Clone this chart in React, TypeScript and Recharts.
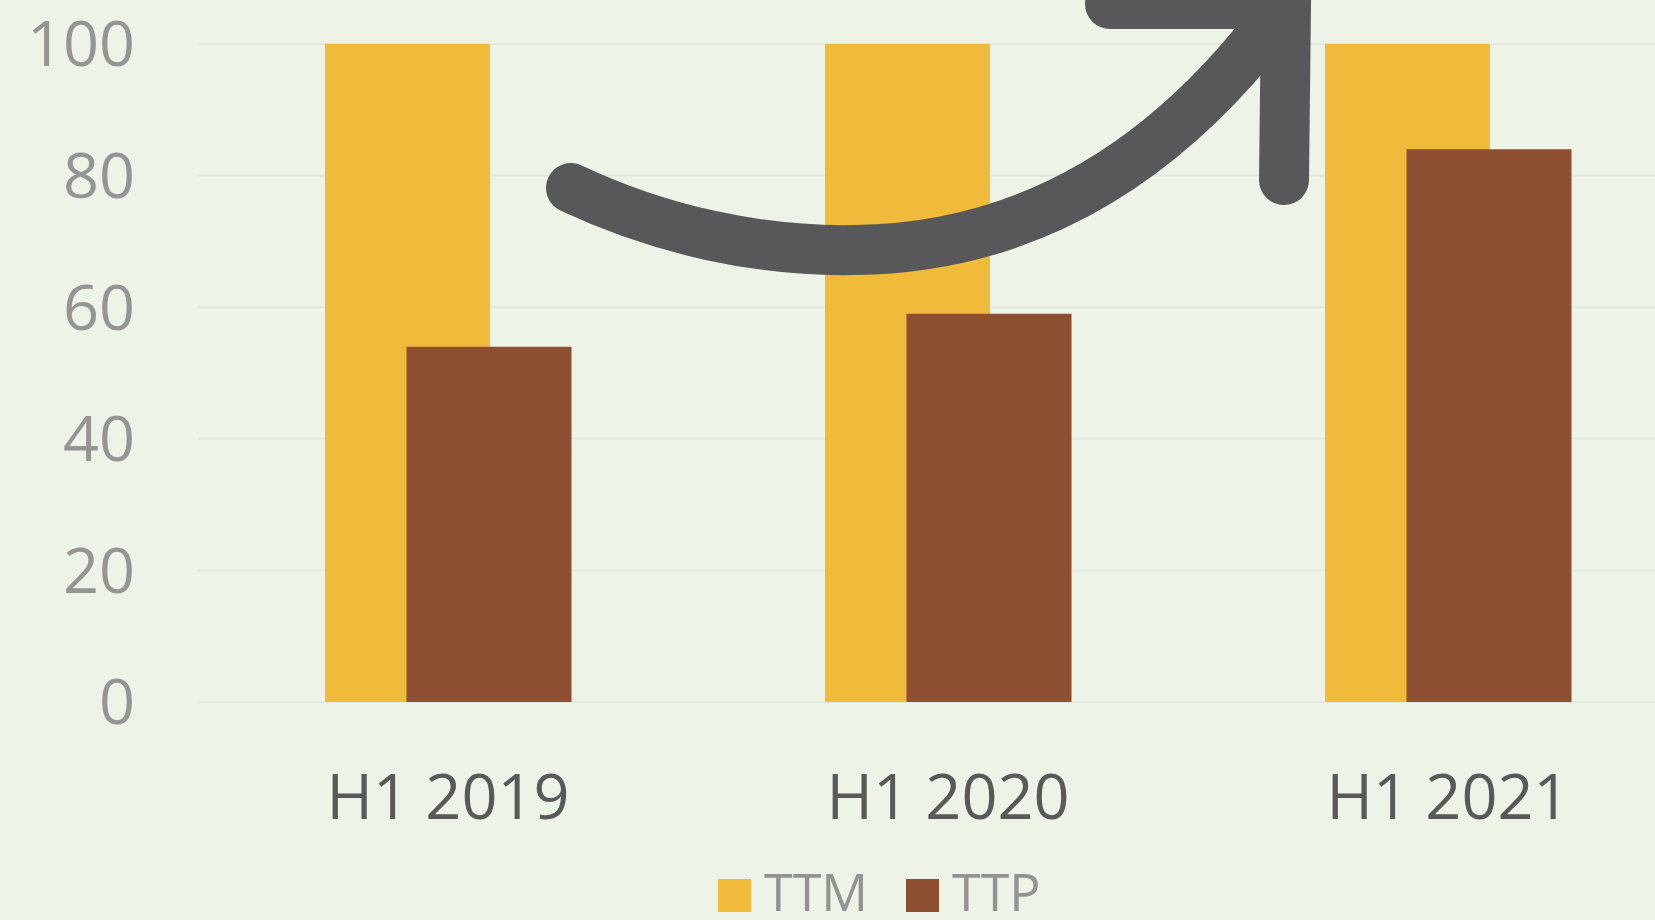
import React from "react";
import { BarChart, Bar, XAxis, YAxis, CartesianGrid, Legend } from "recharts";

const categories = ["H1 2019", "H1 2020", "H1 2021"];
const ttmValues = [100, 100, 100];
const ttpValues = [54, 59, 84];
const yTicks = [0, 20, 40, 60, 80, 100];

const COLORS = {
  ttm: "#F0BA3B",
  ttp: "#8E4E31",
  bg: "#EEF3E8",
  grid: "#E4E6E2",
  arrow: "#58585A",
};

const FONT = '"Open Sans", "Noto Sans", sans-serif';

const data = categories.map((name, i) => ({
  name,
  TTM: ttmValues[i],
  TTP: ttpValues[i],
}));

function renderLegend(props: any) {
  const payload = props.payload || [];
  return (
    <div
      style={{
        display: "flex",
        alignItems: "flex-start",
        height: 98,
        paddingTop: 57,
        paddingLeft: 718,
        boxSizing: "border-box",
        fontFamily: FONT,
      }}
    >
      {payload.map((entry: any, index: number) => (
        <div
          key={`legend-${index}`}
          style={{ display: "flex", alignItems: "flex-start", marginRight: 38 }}
        >
          <div
            style={{
              width: 33,
              height: 33,
              background: entry.color,
              marginRight: 13,
            }}
          />
          <span
            style={{
              fontSize: 52,
              color: "#939393",
              lineHeight: "52px",
              marginTop: -14,
            }}
          >
            {entry.value}
          </span>
        </div>
      ))}
    </div>
  );
}

// decorative trend arrow drawn over the chart
function TrendArrow() {
  return (
    <svg
      width={1655}
      height={920}
      style={{ position: "absolute", left: 0, top: 0, pointerEvents: "none" }}
    >
      <path
        d="M 571 188 C 660 230, 760 252, 855 250 C 1040 248, 1180 150, 1286 3"
        fill="none"
        stroke={COLORS.arrow}
        strokeWidth={50}
        strokeLinecap="round"
      />
      <path
        d="M 1110 4 L 1286 4 L 1284 180"
        fill="none"
        stroke={COLORS.arrow}
        strokeWidth={50}
        strokeLinecap="round"
        strokeLinejoin="miter"
      />
    </svg>
  );
}

export default function App() {
  return (
    <div
      style={{
        position: "absolute",
        left: 0,
        top: 0,
        width: 1655,
        height: 920,
        overflow: "hidden",
        background: COLORS.bg,
        fontFamily: FONT,
      }}
    >
      <BarChart
        width={1698}
        height={920}
        data={data}
        margin={{ top: 44, right: 0, left: 0, bottom: 0 }}
        barSize={165}
        barGap={-83.5}
      >
        <CartesianGrid
          vertical={false}
          stroke={COLORS.grid}
          strokeWidth={2}
        />
        <XAxis
          dataKey="name"
          axisLine={false}
          tickLine={false}
          tickSize={0}
          tickMargin={72}
          height={120}
          tick={{ fontSize: 63, fill: "#595959", fontFamily: FONT }}
        />
        <YAxis
          width={198}
          domain={[0, 100]}
          ticks={yTicks}
          axisLine={false}
          tickLine={false}
          tickSize={0}
          tickMargin={63}
          tick={{ fontSize: 63, fill: "#959595", fontFamily: FONT }}
        />
        <Legend
          verticalAlign="bottom"
          align="left"
          wrapperStyle={{ height: 98 }}
          content={renderLegend}
        />
        <Bar dataKey="TTM" fill={COLORS.ttm} isAnimationActive={false} />
        <Bar dataKey="TTP" fill={COLORS.ttp} isAnimationActive={false} />
      </BarChart>
      <TrendArrow />
    </div>
  );
}
